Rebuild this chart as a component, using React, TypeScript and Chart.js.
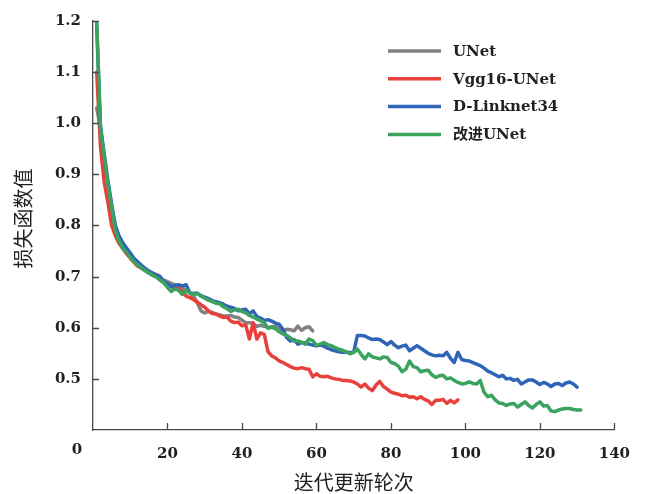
import React, { useEffect, useRef } from 'react';
import { Chart, registerables } from 'chart.js';

Chart.register(...registerables);

// ---- data ----
const seriesNames = ['UNet', 'Vgg16-UNet', 'D-Linknet34', '改进UNet'];
const seriesColors = ['#818181', '#e8413b', '#2f64b9', '#3aa35e'];
const xAxisTitle = '迭代更新轮次';
const yAxisTitle = '损失函数值';
const xMin = 0;
const xMax = 140;
const xStep = 20;
const yMin = 0.4;
const yMax = 1.2;
const yStep = 0.1;

const unetLoss = [
  1.03, 0.99, 0.93, 0.88, 0.835, 0.795, 0.775, 0.76, 0.748, 0.738,
  0.73, 0.722, 0.716, 0.712, 0.707, 0.703, 0.70, 0.697, 0.693, 0.69,
  0.687, 0.684, 0.68, 0.678, 0.672, 0.668, 0.662, 0.649, 0.633, 0.629,
  0.632, 0.63, 0.627, 0.625, 0.623, 0.623, 0.624, 0.621, 0.62, 0.615,
  0.61, 0.61, 0.608, 0.603, 0.605, 0.603, 0.60, 0.602, 0.603, 0.60,
  0.594, 0.597, 0.596, 0.594, 0.603, 0.595, 0.60, 0.602, 0.594,
];

const vggLoss = [
  1.10, 0.955, 0.885, 0.845, 0.80, 0.78, 0.765, 0.755, 0.745, 0.736,
  0.728, 0.72, 0.718, 0.714, 0.71, 0.706, 0.704, 0.70, 0.688, 0.684,
  0.681, 0.676, 0.678, 0.671, 0.662, 0.659, 0.655, 0.65, 0.645, 0.64,
  0.633, 0.628, 0.627, 0.623, 0.62, 0.621, 0.613, 0.61, 0.611, 0.604,
  0.606, 0.578, 0.61, 0.578, 0.59, 0.587, 0.553, 0.545, 0.541, 0.535,
  0.532, 0.528, 0.524, 0.521, 0.52, 0.522, 0.52, 0.519, 0.504, 0.51,
  0.505, 0.504, 0.505, 0.502, 0.50, 0.499, 0.497, 0.497, 0.496, 0.494,
  0.49, 0.484, 0.49, 0.482, 0.477, 0.488, 0.495, 0.485, 0.48, 0.474,
  0.472, 0.47, 0.467, 0.468, 0.464, 0.465, 0.461, 0.465, 0.46, 0.457,
  0.45, 0.458, 0.458, 0.46, 0.452, 0.458, 0.453, 0.459,
];

const dlinkLoss = [
  1.19, 0.995, 0.94, 0.888, 0.842, 0.80, 0.78, 0.766, 0.756, 0.746,
  0.736, 0.729, 0.722, 0.716, 0.711, 0.707, 0.703, 0.70, 0.69, 0.686,
  0.681, 0.683, 0.684, 0.682, 0.684, 0.668, 0.667, 0.668, 0.662, 0.66,
  0.657, 0.653, 0.651, 0.649, 0.646, 0.642, 0.64, 0.638, 0.633, 0.635,
  0.636, 0.627, 0.633, 0.622, 0.619, 0.614, 0.616, 0.613, 0.609, 0.607,
  0.597, 0.581, 0.574, 0.577, 0.568, 0.571, 0.57, 0.568, 0.566, 0.565,
  0.566, 0.564, 0.56, 0.557, 0.555, 0.553, 0.552, 0.552, 0.551, 0.552,
  0.585, 0.585, 0.584, 0.58, 0.577, 0.578, 0.577, 0.572, 0.567, 0.573,
  0.566, 0.561, 0.564, 0.566, 0.555, 0.56, 0.565, 0.56, 0.555, 0.55,
  0.547, 0.545, 0.546, 0.545, 0.552, 0.54, 0.532, 0.552, 0.538, 0.536,
  0.535, 0.532, 0.529, 0.526, 0.521, 0.515, 0.512, 0.508, 0.504, 0.507,
  0.50, 0.501, 0.497, 0.499, 0.49, 0.494, 0.498, 0.498, 0.494, 0.489,
  0.493, 0.49, 0.485, 0.49, 0.491, 0.487, 0.492, 0.494, 0.49, 0.484,
];

const improvedLoss = [
  1.20, 0.99, 0.935, 0.882, 0.836, 0.79, 0.77, 0.755, 0.748, 0.738,
  0.729, 0.723, 0.717, 0.712, 0.707, 0.703, 0.699, 0.693, 0.688, 0.679,
  0.671, 0.676, 0.673, 0.665, 0.674, 0.668, 0.665, 0.667, 0.663, 0.658,
  0.654, 0.651, 0.648, 0.647, 0.641, 0.637, 0.632, 0.635, 0.636, 0.632,
  0.629, 0.624, 0.621, 0.617, 0.614, 0.61, 0.599, 0.601, 0.598, 0.592,
  0.588, 0.585, 0.58, 0.574, 0.574, 0.572, 0.568, 0.578, 0.575, 0.565,
  0.568, 0.571, 0.567, 0.565, 0.561, 0.558, 0.556, 0.553, 0.549, 0.552,
  0.558, 0.548, 0.539, 0.549, 0.543, 0.541, 0.539, 0.543, 0.542, 0.532,
  0.53, 0.525, 0.514, 0.519, 0.535, 0.524, 0.522, 0.514, 0.516, 0.517,
  0.508, 0.503, 0.506, 0.507, 0.50, 0.502, 0.497, 0.493, 0.49, 0.491,
  0.494, 0.491, 0.49, 0.497, 0.474, 0.465, 0.468, 0.459, 0.453, 0.452,
  0.448, 0.451, 0.452, 0.445, 0.45, 0.455, 0.448, 0.443, 0.45, 0.455,
  0.447, 0.448, 0.437, 0.436, 0.439, 0.441, 0.442, 0.442, 0.44, 0.439,
  0.439,
];

const seriesValues = [unetLoss, vggLoss, dlinkLoss, improvedLoss];

// ---- styles ----
const textColor = '#231f20';
const axisColor = '#4a4a4a';
const tickFont = { family: '"DejaVu Serif", "Liberation Serif", serif', size: 15, weight: 'bold' as const };
const cjkFamily = '"Noto Sans CJK SC", "Noto Sans", sans-serif';
const legendFont = 'bold 15px "DejaVu Serif", "Noto Sans CJK SC", serif';

const decorPlugin = {
  id: 'decor',
  afterDraw(chart: any) {
    const { ctx, chartArea, scales } = chart;
    const x = scales.x;
    const y = scales.y;
    ctx.save();
    // inward tick marks
    ctx.strokeStyle = axisColor;
    ctx.lineWidth = 1.3;
    ctx.beginPath();
    x.ticks.forEach((t: any) => {
      if (t.value === xMin) return;
      const px = Math.round(x.getPixelForValue(t.value)) + 0.5;
      ctx.moveTo(px, chartArea.bottom);
      ctx.lineTo(px, chartArea.bottom - 7);
    });
    y.ticks.forEach((t: any) => {
      if (Math.abs(t.value - yMin) < 1e-9) return;
      const py = Math.round(y.getPixelForValue(t.value)) + 0.5;
      ctx.moveTo(chartArea.left, py);
      ctx.lineTo(chartArea.left + 6, py);
    });
    ctx.stroke();

    // shared origin label
    ctx.fillStyle = textColor;
    ctx.font = `bold ${tickFont.size}px ${tickFont.family}`;
    ctx.textAlign = 'center';
    ctx.textBaseline = 'middle';
    ctx.fillText(String(xMin), chartArea.left - 16, chartArea.bottom + 20);

    // y axis title
    ctx.save();
    ctx.translate(23, (chartArea.top + chartArea.bottom) / 2 - 7);
    ctx.rotate(-Math.PI / 2);
    ctx.font = `20px ${cjkFamily}`;
    ctx.fillText(yAxisTitle, 0, 0);
    ctx.restore();

    // legend
    const lx = 388;
    const ly = 51;
    const rowH = 27.8;
    ctx.font = legendFont;
    ctx.textAlign = 'left';
    ctx.textBaseline = 'middle';
    seriesNames.forEach((name, i) => {
      const yy = ly + i * rowH;
      ctx.strokeStyle = seriesColors[i];
      ctx.lineWidth = 3.5;
      ctx.beginPath();
      ctx.moveTo(lx, yy);
      ctx.lineTo(lx + 53, yy);
      ctx.stroke();
      ctx.fillStyle = textColor;
      ctx.fillText(name, lx + 65, yy + 1);
    });
    ctx.restore();
  },
};

export default function App() {
  const canvasRef = useRef<HTMLCanvasElement | null>(null);

  useEffect(() => {
    if (!canvasRef.current) return;
    const datasets = seriesValues.map((vals, i) => ({
      label: seriesNames[i],
      data: vals.map((v, k) => ({ x: k + 1, y: v })),
      borderColor: seriesColors[i],
      backgroundColor: seriesColors[i],
      borderWidth: 3.5,
      pointRadius: 0,
      tension: 0,
      fill: false,
      borderJoinStyle: 'round' as const,
      borderCapStyle: 'round' as const,
      order: 4 - i,
    }));
    const chart = new Chart(canvasRef.current, {
      type: 'line',
      data: { datasets },
      options: {
        animation: false,
        responsive: true,
        maintainAspectRatio: false,
        layout: { padding: { left: 0, right: 18, top: 17, bottom: 0 } },
        plugins: {
          legend: { display: false },
          tooltip: { enabled: false },
        },
        scales: {
          x: {
            type: 'linear',
            min: xMin,
            max: xMax,
            ticks: {
              stepSize: xStep,
              padding: 15,
              color: textColor,
              font: tickFont,
              maxRotation: 0,
              callback: (v: any) => (v === xMin ? '' : String(v)),
            },
            grid: { display: false, drawTicks: false },
            border: { display: true, color: axisColor, width: 1.3 },
            title: {
              display: true,
              text: xAxisTitle,
              color: textColor,
              font: { family: cjkFamily, size: 20 },
              padding: { top: 0, bottom: 0 },
            },
            afterFit: (s: any) => {
              s.height = 64;
            },
          },
          y: {
            type: 'linear',
            min: yMin,
            max: yMax,
            ticks: {
              stepSize: yStep,
              padding: 12,
              color: textColor,
              font: tickFont,
              callback: (v: any) =>
                Math.abs(v - yMin) < 1e-9 ? '' : Number(v).toFixed(1),
            },
            grid: { display: false, drawTicks: false },
            border: { display: true, color: axisColor, width: 1.3 },
            afterFit: (s: any) => {
              s.width = 93;
            },
          },
        },
      },
      plugins: [decorPlugin],
    });
    return () => chart.destroy();
  }, []);

  return (
    <div style={{ position: 'fixed', left: 0, top: 0, width: 645, height: 494, background: '#fff' }}>
      <canvas ref={canvasRef} />
    </div>
  );
}
